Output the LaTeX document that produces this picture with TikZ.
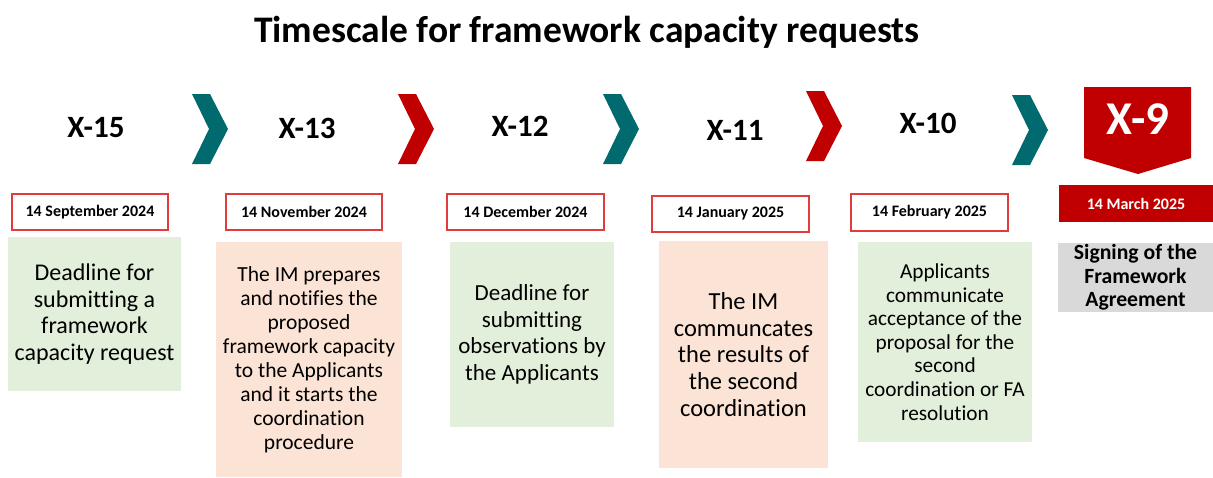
\documentclass[tikz,border=0pt]{standalone}
\usepackage{fontspec}
\setmainfont{Carlito}[Ligatures=NoCommon]
\definecolor{tealc}{HTML}{006A6E}
\definecolor{redc}{HTML}{C00000}
\definecolor{datered}{HTML}{E03C3C}
\definecolor{greenc}{HTML}{E2EFDA}
\definecolor{orangec}{HTML}{FBE3D6}
\definecolor{grayc}{HTML}{D9D9D9}
\newcommand\mychev[3]{\fill[#3] (#1,#2) -- ++(18,0) -- ++(18,35) -- ++(-18,35) -- ++(-18,0) -- ++(17,-35) -- cycle;}
\begin{document}
\begin{tikzpicture}[x=1pt,y=-1pt,
  steplab/.style={font=\bfseries\fontsize{31}{36}\selectfont, inner sep=0},
  datebox/.style={draw=datered, line width=1.2pt, fill=white, minimum width=156, minimum height=36, inner sep=0, font=\bfseries\fontsize{16}{19}\selectfont},
  descbox/.style={inner sep=0, align=center},
]
\useasboundingbox (0,0) rectangle (1213,477);
\node[font=\bfseries\fontsize{37.5}{44}\selectfont] (title) at (587,32) {Timescale for framework capacity requests};

% step labels
\node[steplab] (s15) at (96,128) {X-15};
\node[steplab] (s13) at (307,128) {X-13};
\node[steplab] (s12) at (520,126) {X-12};
\node[steplab] (s11) at (735,130) {X-11};
\node[steplab] (s10) at (928,123) {X-10};

% chevrons
\mychev{192}{94}{tealc}
\mychev{398}{94}{redc}
\mychev{603}{94}{tealc}
\mychev{806}{91}{redc}
\mychev{1012}{95}{tealc}

% X-9 marker
\fill[redc] (1084,87) -- (1191,87) -- (1191,158) -- (1138,174) -- (1084,158) -- cycle;
\node[font=\bfseries\fontsize{47}{50}\selectfont, text=white, inner sep=0] (s9) at (1138,119) {X-9};

% date boxes
\node[datebox] (d1) at (90,212) {14 September 2024};
\node[datebox] (d2) at (304,212) {14 November 2024};
\node[datebox, minimum width=157] (d3) at (525.5,212) {14 December 2024};
\node[datebox, minimum width=157] (d4) at (730.5,214) {14 January 2025};
\node[datebox, minimum width=157, minimum height=37] (d5) at (929.5,212.5) {14 February 2025};
\node[datebox, draw=none, fill=redc, text=white, minimum width=154, minimum height=37] (d6) at (1136,203.5) {14 March 2025};

% description boxes
\node[descbox, fill=greenc, minimum width=173, minimum height=154, font=\fontsize{24}{26.5}\selectfont] (b1) at (94.5,314)
  {Deadline for\\submitting a\\framework\\capacity request};
\node[descbox, fill=orangec, minimum width=186, minimum height=235, font=\fontsize{21.5}{24}\selectfont] (b2) at (309,359.5)
  {The IM prepares\\and notifies the\\proposed\\framework capacity\\to the Applicants\\and it starts the\\coordination\\procedure};
\node[descbox, fill=greenc, minimum width=164, minimum height=185, font=\fontsize{23}{26.7}\selectfont] (b3) at (532,334.5)
  {Deadline for\\submitting\\observations by\\the Applicants};
\node[descbox, fill=orangec, minimum width=169, minimum height=227, font=\fontsize{24.5}{26.7}\selectfont] (b4) at (743.5,354.5)
  {The IM\\communcates\\the results of\\the second\\coordination};
\node[descbox, fill=greenc, minimum width=174, minimum height=200, font=\fontsize{21.3}{23.6}\selectfont] (b5) at (945,342)
  {Applicants\\communicate\\acceptance of the\\proposal for the\\second\\coordination or FA\\resolution};
\node[descbox, fill=grayc, minimum width=155, minimum height=69, font=\bfseries\fontsize{21.7}{23.3}\selectfont] (b6) at (1135.5,277.5)
  {Signing of the\\Framework\\Agreement};
\end{tikzpicture}
\end{document}
